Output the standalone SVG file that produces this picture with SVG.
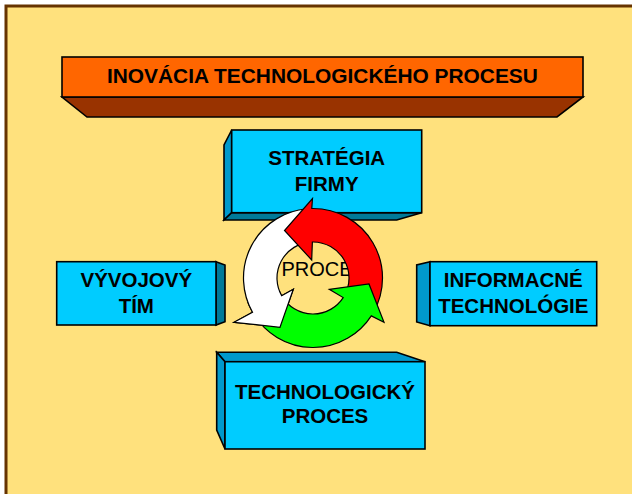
<svg xmlns="http://www.w3.org/2000/svg" width="632" height="494" viewBox="0 0 632 494">
  <defs>
    <style>
      .frame { fill: #FFE17D; stroke: #663300; stroke-width: 3; }
      .edge { stroke: #000; stroke-width: 1.6; stroke-linejoin: miter; }
      .front { fill: #00CCFF; }
      .side { fill: #0099CC; }
      .shade { fill: #007A99; }
      .title-front { fill: #FF6600; }
      .title-bevel { fill: #993300; }
      .lbl { font-family: "Liberation Sans", Arial, sans-serif; font-weight: bold; font-size: 20.5px; fill: #000; text-anchor: middle; }
      .title-lbl { font-size: 20.9px; }
      .center-lbl { font-family: "Liberation Sans", Arial, sans-serif; font-size: 20px; fill: #000; }
      .arrow { stroke: #000; stroke-width: 1.2; stroke-linejoin: miter; }
    </style>
    <clipPath id="whiteHeadWedge">
      <polygon points="313,278 200.2,319 228.1,362.9 272,390.8"/>
    </clipPath>
    <path id="whiteArrowShape" d="M309.86,242.14 L306.94,208.76 A69.5,69.5 0 0 0 252.51,312.22 L234,322.3 L280,327.3 L293.3,289.3 L281.67,295.73 A36,36 0 0 1 309.86,242.14 Z"/>
  </defs>

  <!-- page -->
  <rect x="0" y="0" width="632" height="494" fill="#FFFFFF"/>
  <rect class="frame" x="6" y="6" width="640" height="500"/>

  <!-- title banner -->
  <g id="title">
    <polygon class="title-bevel edge" points="62,97 583,97 557,117 87,117"/>
    <rect class="title-front edge" x="62" y="57" width="521" height="40"/>
    <text class="lbl title-lbl" x="322.4" y="83.3">INOVÁCIA TECHNOLOGICKÉHO PROCESU</text>
  </g>

  <!-- upper block -->
  <g id="strategia">
    <polygon class="side edge" points="231.7,130 224,145 224,220 231.7,212.7"/>
    <polygon class="shade edge" points="224,220 396.7,220 421.7,212.7 231.7,212.7"/>
    <rect class="front edge" x="231.7" y="130" width="190" height="82.7"/>
    <text class="lbl" x="326.7" y="165">STRATÉGIA</text>
    <text class="lbl" x="326.7" y="190.5">FIRMY</text>
  </g>

  <!-- left block -->
  <g id="vyvojovy-tim">
    <polygon class="shade edge" points="216,261.7 225,265 225,321.7 216,325"/>
    <rect class="front edge" x="56.7" y="261.7" width="159.3" height="63.3"/>
    <text class="lbl" x="136.3" y="287.3">VÝVOJOVÝ</text>
    <text class="lbl" x="136.3" y="313">TÍM</text>
  </g>

  <!-- right block -->
  <g id="informacne-technologie">
    <polygon class="side edge" points="430,261.7 416.7,265 416.7,322 430,325.7"/>
    <rect class="front edge" x="430" y="261.7" width="166.7" height="64"/>
    <text class="lbl" x="513.3" y="287.3">INFORMACNÉ</text>
    <text class="lbl" x="513.3" y="312.7">TECHNOLÓGIE</text>
  </g>

  <!-- lower block -->
  <g id="technologicky-proces">
    <polygon class="side edge" points="216.7,352.3 396.7,352.3 425,361.7 225,361.7"/>
    <polygon class="side edge" points="216.7,352.3 225,361.7 225,449 216.7,430"/>
    <rect class="front edge" x="225" y="361.7" width="200" height="87.3"/>
    <text class="lbl" x="325" y="399.3">TECHNOLOGICKÝ</text>
    <text class="lbl" x="325" y="423.3">PROCES</text>
  </g>

  <!-- cycle of three curved arrows -->
  <g id="cycle">
    <text class="center-lbl" x="281.5" y="276">PROCE</text>
    <use href="#whiteArrowShape" class="arrow" fill="#FFFFFF"/>
    <path class="arrow" fill="#FF0000" d="M344.18,296 L373.19,312.75 A69.5,69.5 0 0 0 311.79,208.51 L312.5,198.5 L284.5,230.5 L311.7,260 L312.37,242 A36,36 0 0 1 344.18,296 Z"/>
    <path class="arrow" fill="#00FF00" d="M282.47,297.08 L254.06,314.83 A69.5,69.5 0 0 0 371.29,315.85 L384,322.3 L369,284 L329.3,289.3 L343.19,297.61 A36,36 0 0 1 282.47,297.08 Z"/>
    <!-- white head sits above the green tail -->
    <use href="#whiteArrowShape" class="arrow" fill="#FFFFFF" clip-path="url(#whiteHeadWedge)"/>
  </g>
</svg>
